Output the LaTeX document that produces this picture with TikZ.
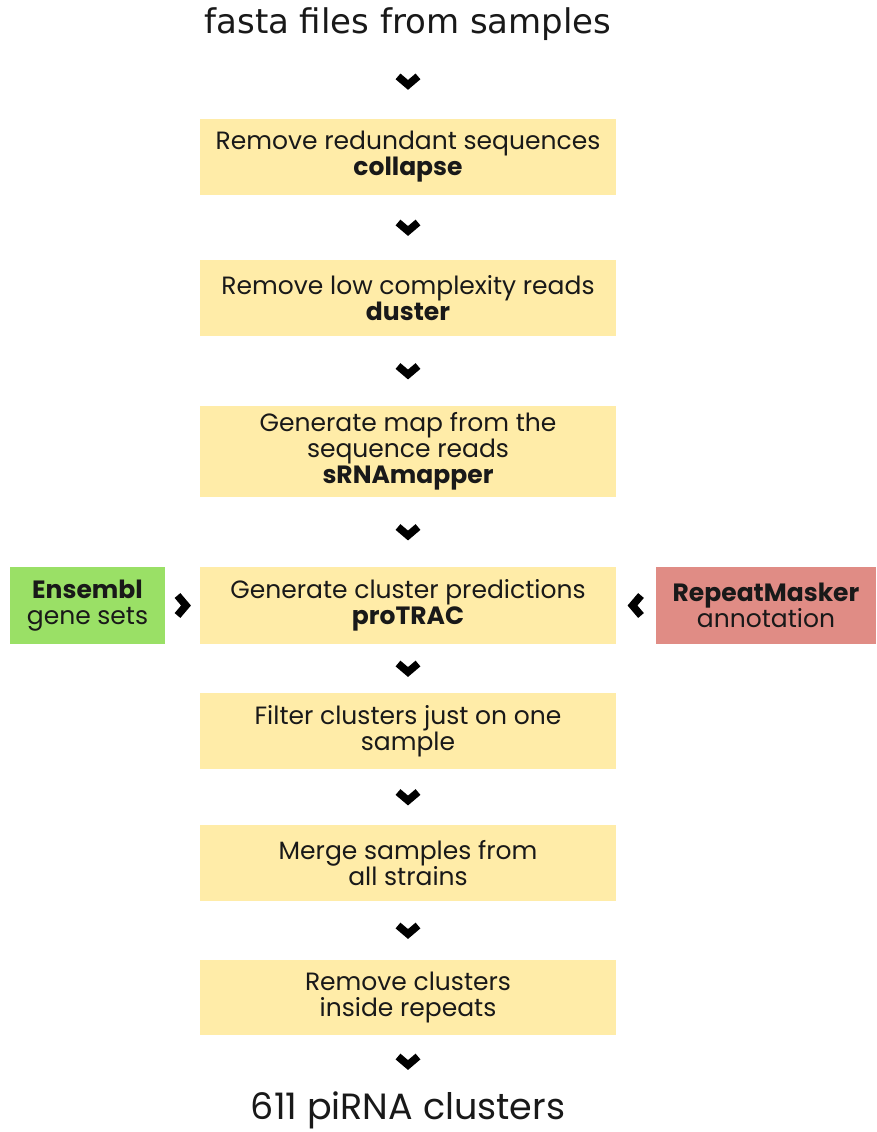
\documentclass[tikz,border=0pt]{standalone}
\usepackage{fontspec}
\setmainfont{Poppins}
\newfontfamily\titlefont{DejaVu Sans}
\definecolor{boxyellow}{RGB}{255,236,168}
\definecolor{boxgreen}{RGB}{154,224,102}
\definecolor{boxred}{RGB}{224,140,133}
\definecolor{txt}{RGB}{25,25,25}
\begin{document}
\begin{tikzpicture}[x=1pt,y=-1pt,
  every node/.style={text=txt},
  stepbox/.style={fill=boxyellow, draw=none, minimum width=416pt, minimum height=76pt,
    align=center, font=\fontsize{25}{26}\selectfont, inner sep=0pt},
  sidebox/.style={draw=none, minimum height=77pt, align=center,
    font=\fontsize{25}{26}\selectfont, inner sep=0pt},
  chev/.pic={\draw[line width=7.5pt, black, miter limit=4] (-5,-10) -- (3.5,0) -- (-5,10);},
  link/.style={draw=none}
]
\useasboundingbox[fill=white] (0,0) rectangle (876,1132);

\node[font=\titlefont\fontsize{34}{40}\selectfont] (start) at (408,24) {fasta files from samples};
\node[stepbox] (b1) at (408,157) {Remove redundant sequences\\\textbf{collapse}};
\node[stepbox] (b2) at (408,298) {Remove low complexity reads\\\textbf{duster}};
\node[stepbox, minimum height=91pt] (b3) at (408,451.5) {Generate map from the\\sequence reads\\\textbf{sRNAmapper}};
\node[stepbox, minimum height=77pt] (b4) at (408,605.5) {Generate cluster predictions\\\textbf{proTRAC}};
\node[sidebox, fill=boxgreen, minimum width=155pt] (ens) at (87.5,605.5) {\textbf{Ensembl}\\gene sets};
\node[sidebox, fill=boxred, minimum width=220pt] (rm) at (766,605.5) {\textbf{RepeatMasker}\\annotation};
\node[stepbox] (b5) at (408,731) {Filter clusters just on one\\sample};
\node[stepbox] (b6) at (408,863) {Merge samples from\\all strains};
\node[stepbox, minimum height=75pt] (b7) at (408,997.5) {Remove clusters\\inside repeats};
\node[font=\fontsize{36.5}{40}\selectfont] (end) at (408,1110) {611 piRNA clusters};

\path[link] (start) -- pic[pos=0.5, sloped, allow upside down]{chev} (b1);
\path[link] (b1) -- pic[pos=0.5, sloped, allow upside down]{chev} (b2);
\path[link] (b2) -- pic[pos=0.5, sloped, allow upside down]{chev} (b3);
\path[link] (b3) -- pic[pos=0.5, sloped, allow upside down]{chev} (b4);
\path[link] (b4) -- pic[pos=0.5, sloped, allow upside down]{chev} (b5);
\path[link] (b5) -- pic[pos=0.5, sloped, allow upside down]{chev} (b6);
\path[link] (b6) -- pic[pos=0.5, sloped, allow upside down]{chev} (b7);
\path[link] (b7) -- pic[pos=0.5, sloped, allow upside down]{chev} (end);
\path[link] (ens) -- pic[pos=0.5, sloped, allow upside down]{chev} (b4);
\path[link] (rm) -- pic[pos=0.5, sloped, allow upside down]{chev} (b4);
\end{tikzpicture}
\end{document}
